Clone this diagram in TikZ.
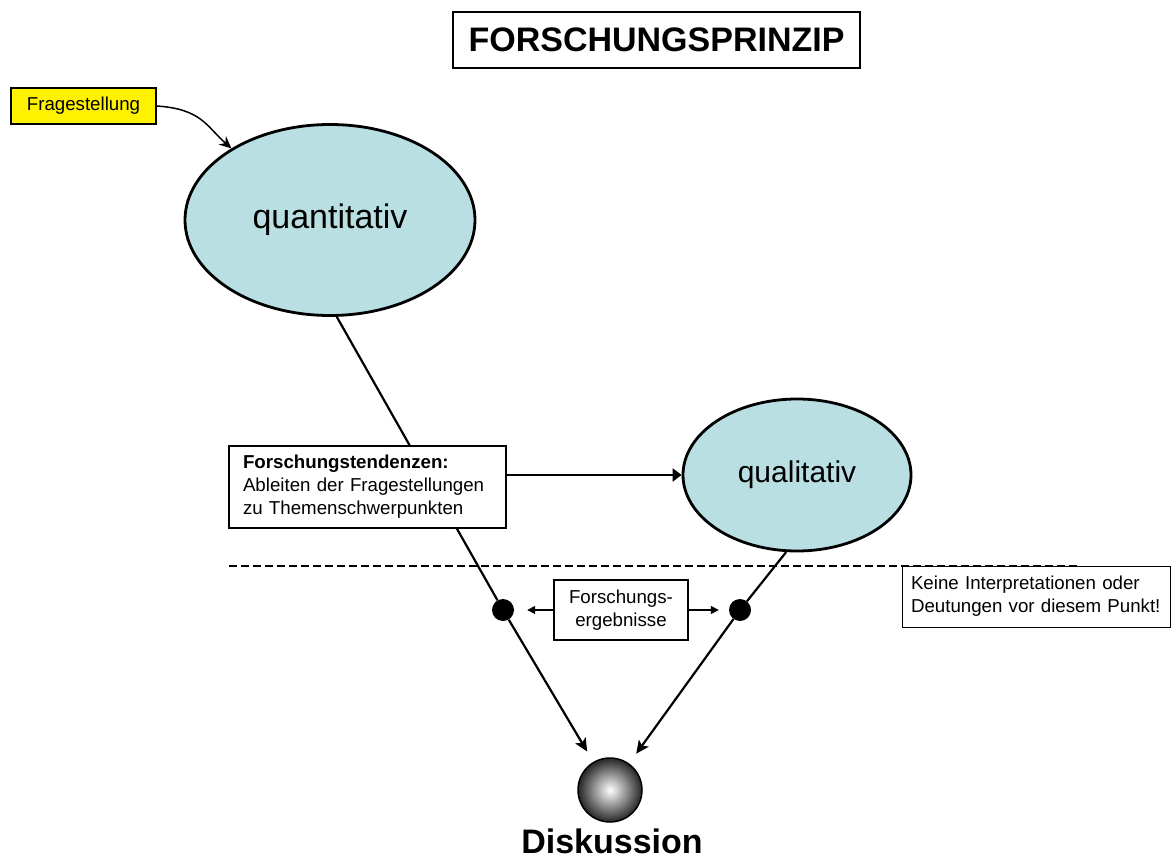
\documentclass[tikz,border=0pt]{standalone}
\usepackage{fontspec}
\setmainfont{Liberation Sans}
\usepackage{tikz}
\usetikzlibrary{shapes.geometric, arrows.meta, positioning, backgrounds}

\definecolor{hellblau}{HTML}{B9DFE2}

\begin{document}
\begin{tikzpicture}[x=1pt, y=-1pt,
        kasten/.style={rectangle, draw, line width=1.5pt, fill=white, inner sep=0pt, font=\fontsize{18.7}{23}\selectfont},
        methode/.style={ellipse, draw, line width=2.8pt, fill=hellblau, inner sep=0pt},
        punkt/.style={circle, fill=black, minimum size=22pt, inner sep=0pt},
        linie/.style={line width=2.2pt},
        pfeil/.style={-{Stealth[length=13pt, width=12pt, inset=3pt]}}]
    \useasboundingbox (0,0) rectangle (1173,861);
    \node[kasten, line width=2.5pt, minimum width=407pt, minimum height=56pt, font=\fontsize{34}{40}\selectfont\bfseries] (titel) at (656.5,40) {FORSCHUNGSPRINZIP};
    \node[kasten, fill=yellow, minimum width=145pt, minimum height=36pt] (frage) at (83.5,106) {Fragestellung};
    \node[methode, minimum width=290pt, minimum height=191pt, font=\fontsize{34}{40}\selectfont] (quanti) at (330,220) {quantitativ};
    \node[methode, minimum width=228pt, minimum height=152pt, font=\fontsize{30}{36}\selectfont] (quali) at (797,475) {qualitativ};
    \node[kasten, minimum width=277pt, minimum height=82pt, text width=249pt, inner xsep=14pt, align=left] (tendenz) at (367.5,487) {\textbf{Forschungstendenzen:}\\Ableiten der Fragestellungen\\zu Themenschwerpunkten};
    \node[kasten, minimum width=134pt, minimum height=60pt, align=center] (ergebnis) at (621,610) {Forschungs-\\ergebnisse};
    \node[kasten, line width=1pt, minimum width=268pt, minimum height=61pt, text width=250pt, inner xsep=9pt, align=left] (hinweis) at (1036,596.5) {Keine Interpretationen oder\\Deutungen vor diesem Punkt!};
    \node[punkt] (punktA) at (503,610) {};
    \node[punkt] (punktB) at (740,610) {};
    \node[circle, draw, line width=1.5pt, minimum size=64pt, inner sep=0pt, shading=radial, inner color=white, outer color=black!85] (kugel) at (610,790) {};
    \node[below=6pt of kugel, xshift=2pt, inner sep=0pt, font=\fontsize{34}{40}\selectfont\bfseries] (diskussion) {Diskussion};
    \coordinate (grenzeL) at (229,566);
    \coordinate (grenzeR) at (1080,566);
    \begin{pgfonlayer}{background}
        \draw[linie] (quanti.274) -- (punktA);
        \draw[linie, pfeil, shorten >=12pt] (punktA) -- (kugel);
        \draw[linie] (quali.262) -- (punktB);
        \draw[linie, pfeil, shorten >=12pt] (punktB) -- (kugel);
        \draw[line width=1.5pt, dash pattern=on 8pt off 4pt] (grenzeL) -- (grenzeR);
    \end{pgfonlayer}
    \draw[linie, -{Triangle[length=9pt, width=13pt]}] (tendenz.east |- quali.west) -- (quali.west);
    \draw[line width=1.5pt, -{Triangle[length=8pt, width=8pt]}, shorten >=13pt] (ergebnis.west) -- (punktA);
    \draw[line width=1.5pt, -{Triangle[length=8pt, width=8pt]}, shorten >=10pt] (ergebnis.east) -- (punktB);
    \draw[line width=1.5pt, -{Stealth[length=12pt, width=11pt]}] (frage.east) .. controls +(45,3) and +(-25,-22) .. (quanti.144);
\end{tikzpicture}
\end{document}
